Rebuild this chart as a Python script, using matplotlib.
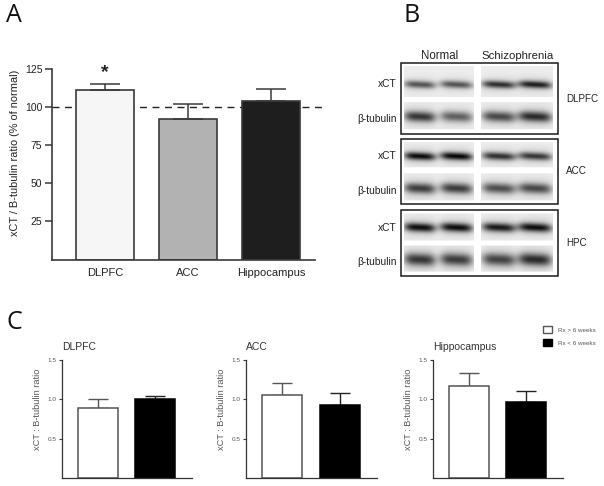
#! /usr/bin/python3

import numpy as np
import matplotlib
matplotlib.use('Agg')
import matplotlib.pyplot as plt
from matplotlib.patches import Patch, Rectangle

plt.rcParams['font.family'] = ['Liberation Sans', 'DejaVu Sans']

W, H = 604, 486
DARK = '#3a3a3a'
GREY = '#555555'

# panel A
regions_a = ['DLPFC', 'ACC', 'Hippocampus']
ratio_a = [111, 92.5, 104]
ratio_a_top = [115, 102, 112]
colors_a = ['#f6f6f6', '#b2b2b2', '#1e1e1e']
ticks_a = [25, 50, 75, 100, 125]

# panel C
regions_c = ['DLPFC', 'ACC', 'Hippocampus']
ratio_long = [0.89, 1.05, 1.17]
ratio_long_top = [1.0, 1.21, 1.34]
ratio_short = [1.0, 0.93, 0.97]
ratio_short_top = [1.04, 1.08, 1.10]
ticks_c = [0.5, 1.0, 1.5]

# panel B darkness of each blot band, per row: normal x2, schizophrenia x2
band_dark = {
    'DLPFC xCT': [0.50, 0.50, 0.62, 0.68],
    'DLPFC tub': [0.60, 0.46, 0.54, 0.64],
    'ACC xCT': [0.74, 0.76, 0.62, 0.60],
    'ACC tub': [0.58, 0.58, 0.52, 0.54],
    'HPC xCT': [0.74, 0.74, 0.70, 0.74],
    'HPC tub': [0.60, 0.58, 0.56, 0.64],
}


# axes placed with reference pixels (left, right, top, bottom)
def px_axes(fig, left, right, top, bottom):
    return fig.add_axes([left / W, 1 - bottom / H, (right - left) / W, (bottom - top) / H])


def clean(ax, color, lw):
    ax.spines['top'].set_visible(False)
    ax.spines['right'].set_visible(False)
    ax.spines['left'].set_color(color)
    ax.spines['bottom'].set_color(color)
    ax.spines['left'].set_linewidth(lw)
    ax.spines['bottom'].set_linewidth(lw)


def plot_panel_a(fig):
    ax = px_axes(fig, 52, 315, 69, 259.5)
    x = np.arange(len(regions_a))
    err = np.array(ratio_a_top) - np.array(ratio_a)
    ax.axhline(100, xmax=1.03, color='#222222', lw=1, dashes=(5, 4), clip_on=False, zorder=1)
    ax.bar(x, ratio_a, 0.7, color=colors_a, edgecolor=DARK, linewidth=1.2, zorder=2)
    ax.errorbar(x, ratio_a, yerr=[np.zeros(3), err], fmt='none', ecolor=DARK, elinewidth=1.1,
                capsize=10.5, capthick=1.1, zorder=3)
    ax.text(0, 122.5, '*', ha='center', va='center', fontsize=14, fontweight='bold', color='#222222')
    ax.set_xlim(-0.64, 2.53)
    ax.set_ylim(0, 125)
    ax.set_xticks(x, regions_a)
    ax.set_yticks(ticks_a)
    ax.tick_params(axis='x', length=0, pad=6, labelsize=8, labelcolor='#222222')
    ax.tick_params(axis='y', length=5, width=1.1, color=DARK, pad=2, labelsize=7.5, labelcolor='#222222')
    ax.set_ylabel('xCT / B-tubulin ratio (% of normal)', fontsize=7.9, color='#222222')
    ax.yaxis.set_label_coords(-0.12, 0.56)
    clean(ax, DARK, 1.2)


def plot_panel_c(fig):
    boxes = [(62, 192), (246, 377), (433, 563)]
    for i, (left, right) in enumerate(boxes):
        ax = px_axes(fig, left, right, 360, 478)
        x = np.arange(2)
        vals = [ratio_long[i], ratio_short[i]]
        err = [ratio_long_top[i] - vals[0], ratio_short_top[i] - vals[1]]
        ax.bar(x, vals, 0.7, color=['white', 'black'], edgecolor=[GREY, 'black'], linewidth=1.1, zorder=2)
        ax.errorbar(x[0], vals[0], yerr=[[0], [err[0]]], fmt='none', ecolor=GREY, elinewidth=1,
                    capsize=7, capthick=1, zorder=1)
        ax.errorbar(x[1], vals[1], yerr=[[0], [err[1]]], fmt='none', ecolor='#222222', elinewidth=1,
                    capsize=7, capthick=1, zorder=1)
        ax.set_xlim(-0.63, 1.65)
        ax.set_ylim(0, 1.5)
        ax.set_xticks([])
        ax.set_yticks(ticks_c, ['0.5', '1.0', '1.5'])
        ax.tick_params(axis='y', length=2.5, width=0.8, color=DARK, pad=1.5, labelsize=4.6, labelcolor=GREY)
        ax.set_ylabel('xCT : B-tubulin ratio', fontsize=6.6, color=GREY)
        ax.yaxis.set_label_coords(-20 / (right - left), 0.58)
        ax.set_title(regions_c[i], loc='left', fontsize=7.5, color='#333333', pad=7)
        clean(ax, '#333333', 0.9)
    handles = [Patch(facecolor='white', edgecolor=GREY, label='Rx > 6 weeks'),
               Patch(facecolor='black', edgecolor='black', label='Rx < 6 weeks')]
    fig.legend(handles=handles, loc='upper left', bbox_to_anchor=(543 / W, 1 - 326 / H), frameon=False,
               fontsize=4.5, labelcolor=GREY, handlelength=1.45, handleheight=1.45, handletextpad=1,
               labelspacing=0.9, borderpad=0, borderaxespad=0)


# the blot is painted on a small canvas, one smooth band per lane
def blot_canvas():
    yy, xx = np.mgrid[0:H, 0:W] + 0.5
    canvas = np.ones((H, W))
    rows = [('DLPFC xCT', 67, 98, 85.5, 3.5), ('DLPFC tub', 103, 130, 117.5, 5.0),
            ('ACC xCT', 143, 168, 157, 3.7), ('ACC tub', 174, 201, 189, 5.0),
            ('HPC xCT', 214, 241, 228, 4.2), ('HPC tub', 246, 272, 260, 6.0)]
    lanes = [(405, 435), (441, 472), (483, 515), (519, 551)]
    patches = [(404, 474), (481, 553)]
    for name, top, bottom, yc, thick in rows:
        for (left, right), pair in zip(patches, [(0, 1), (2, 3)]):
            mask = (xx >= left) & (xx < right) & (yy >= top) & (yy < bottom)
            tone = np.full((H, W), 0.93)
            for n in pair:
                lane_left, lane_right = lanes[n]
                xc = (lane_left + lane_right) / 2
                half = (lane_right - lane_left) / 2
                across = np.exp(-((xx - xc) / (half * 1.05)) ** 4)
                along = np.exp(-((yy - yc - 0.05 * (xx - xc)) / thick) ** 2)
                halo = np.exp(-((yy - yc) / (thick * 2.2)) ** 2) * 0.2
                tone -= band_dark[name][n] * across * (along + halo)
            canvas[mask] = tone[mask]
    return np.clip(canvas, 0, 1)


def plot_panel_b(fig):
    ax = fig.add_axes([0, 0, 1, 1], facecolor='none')
    ax.imshow(blot_canvas(), cmap='gray', vmin=0, vmax=1, extent=(0, W, H, 0), zorder=0, aspect='auto')
    ax.set_xlim(0, W)
    ax.set_ylim(H, 0)
    ax.axis('off')
    for top, bottom in [(63, 134), (139, 204), (210, 276)]:
        ax.add_patch(Rectangle((400.5, top), 157, bottom - top, fill=False, edgecolor='#1a1a1a', linewidth=1.1))
    ax.text(439.5, 56, 'Normal', ha='center', va='center', fontsize=8.3, color='#222222')
    ax.text(517.5, 56, 'Schizophrenia', ha='center', va='center', fontsize=8.2, color='#222222')
    for y, label in [(84, 'xCT'), (119, 'β-tubulin'), (156, 'xCT'), (191, 'β-tubulin'), (228, 'xCT'), (262, 'β-tubulin')]:
        ax.text(397, y, label, ha='right', va='center', fontsize=7.4, color='#222222')
    for y, label in [(99, 'DLPFC'), (171, 'ACC'), (243, 'HPC')]:
        ax.text(566, y, label, ha='left', va='center', fontsize=7.1, color='#222222')
    return ax


def main():
    fig = plt.figure(figsize=(W / 100, H / 100), dpi=100)
    ax = plot_panel_b(fig)
    plot_panel_a(fig)
    plot_panel_c(fig)
    for x, y, letter in [(6, 15.5, 'A'), (404, 15.5, 'B'), (6, 322, 'C')]:
        ax.text(x, y, letter, ha='left', va='center', fontsize=18, family='Open Sans', color='#111111')
    fig.savefig('out.png', dpi=100)


if __name__ == '__main__':
    main()
